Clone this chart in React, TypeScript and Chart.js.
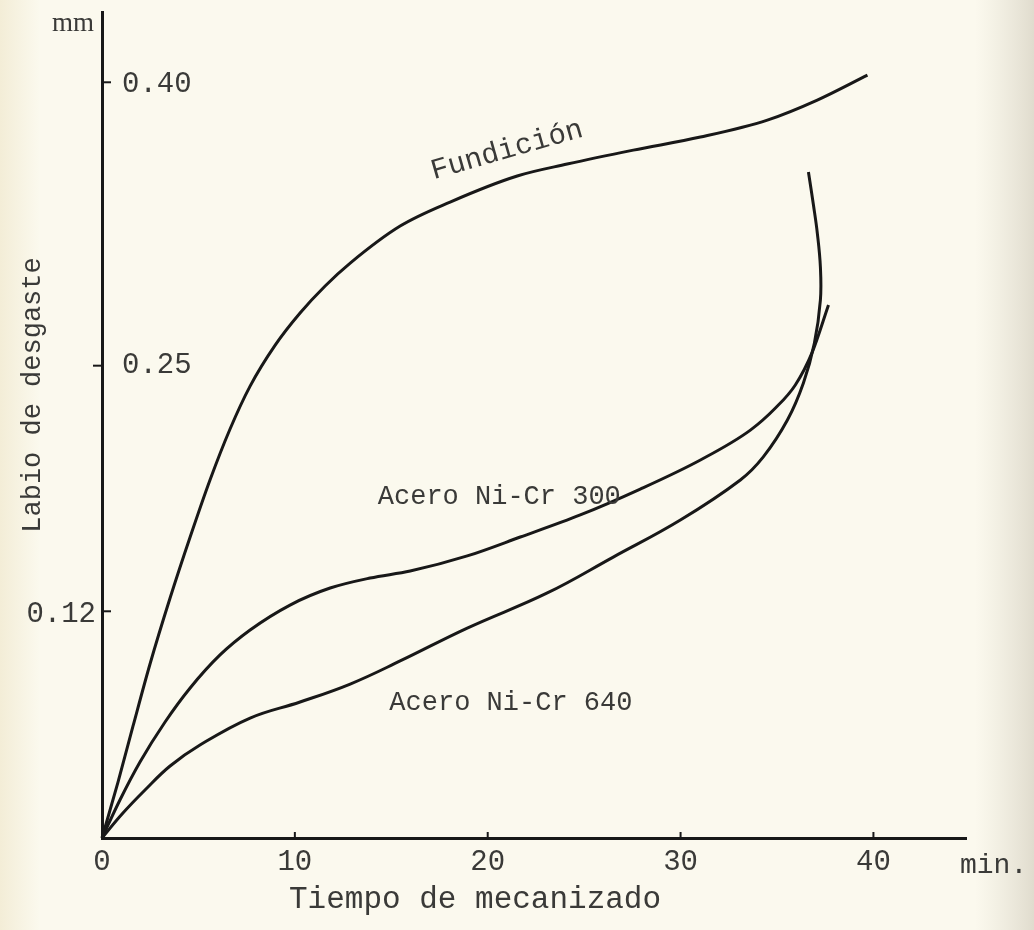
import React, { useEffect, useRef } from "react";
import { Chart, registerables } from "chart.js";

Chart.register(...registerables);

// ---- Data (minutes, mm) ----
const fundicionX = [0, 0.83, 1.61, 2.49, 3.53, 4.57, 5.6, 6.64, 7.68, 8.98, 10.27, 11.57, 12.87, 15.46, 18.05, 21.53, 24.12, 27.55, 31.03, 34.5, 37.09, 39.69];
const fundicionY = [0, 0.0296, 0.0593, 0.0921, 0.127, 0.1593, 0.1895, 0.2165, 0.2392, 0.2609, 0.2779, 0.2922, 0.3043, 0.3239, 0.3366, 0.3504, 0.3567, 0.3641, 0.371, 0.38, 0.3906, 0.4038];

const niCr300X = [0, 0.93, 1.97, 3.27, 4.57, 6.12, 7.68, 9.75, 11.83, 13.9, 15.98, 18.94, 21.69, 24.8, 27.91, 31.03, 33.62, 34.92, 35.95, 36.83, 37.67];
const niCr300Y = [0, 0.0201, 0.0402, 0.0614, 0.0794, 0.0969, 0.1101, 0.1233, 0.1323, 0.1376, 0.1413, 0.1493, 0.1593, 0.171, 0.1847, 0.2001, 0.2159, 0.2276, 0.2398, 0.2572, 0.2821];

const niCr640X = [0, 1.04, 2.23, 3.53, 5.08, 7.68, 10.27, 12.87, 15.46, 18.94, 23.09, 26.51, 29.99, 33.1, 34.29, 35.54, 36.37, 36.94, 37.25, 37.25, 37.09, 36.89, 36.63];
const niCr640Y = [0, 0.0127, 0.0254, 0.0381, 0.0492, 0.0635, 0.072, 0.0815, 0.0937, 0.1111, 0.1297, 0.1487, 0.1683, 0.1895, 0.2017, 0.2212, 0.2408, 0.262, 0.2847, 0.3022, 0.3202, 0.335, 0.3525];

const xTickValues = [0, 10, 20, 30, 40];
const xTickLabels = ["0", "10", "20", "30", "40"];
const yTickValues = [0.12, 0.25, 0.4];
const yTickLabels = ["0.12", "0.25", "0.40"];

const seriesLabels = ["Fundición", "Acero Ni-Cr 300", "Acero Ni-Cr 640"];
// anchor points of curve labels (data coords)
const labelAnchorX = [21.0, 14.3, 14.9];
const labelAnchorY = [0.364, 0.1805, 0.0715];

const xAxisTitle = "Tiempo de mecanizado";
const xAxisUnit = "min.";
const yAxisTitle = "Labio de desgaste";
const yAxisUnit = "mm";

const X_MAX = 44.8;
const Y_MAX = 0.4372;

const toPoints = (xs: number[], ys: number[]) => xs.map((x, i) => ({ x, y: ys[i] }));

const MONO = "'Liberation Mono', 'DejaVu Sans Mono', monospace";
const SERIF = "'Liberation Serif', 'DejaVu Serif', serif";
const INK = "#3a3a38";
const LINE = "#181818";

// styling for the individual y ticks (side of mark: +1 right, -1 left; label side)
const yTickMarkSide = [1, -1, 1];
const yTickLabelSide = ["left", "right", "right"];
const yTickLabelDy = [3, 0, 2];

const paperPlugin = {
  id: "paper",
  beforeDraw(chart: any) {
    const { ctx, width, height } = chart;
    ctx.save();
    ctx.fillStyle = "#fbf9ee";
    ctx.fillRect(0, 0, width, height);
    const gl = ctx.createLinearGradient(0, 0, 40, 0);
    gl.addColorStop(0, "rgba(240,232,205,0.7)");
    gl.addColorStop(1, "rgba(240,232,205,0)");
    ctx.fillStyle = gl;
    ctx.fillRect(0, 0, 40, height);
    const g = ctx.createLinearGradient(975, 0, width, 0);
    g.addColorStop(0, "rgba(225,220,205,0)");
    g.addColorStop(1, "rgba(215,210,195,0.75)");
    ctx.fillStyle = g;
    ctx.fillRect(975, 0, width - 975, height);
    ctx.restore();
  },
  afterDraw(chart: any) {
    const { ctx } = chart;
    const xs = chart.scales.x;
    const ys = chart.scales.y;
    const ax = xs.getPixelForValue(0);
    const ay = ys.getPixelForValue(0);
    ctx.save();
    // tick marks
    ctx.strokeStyle = LINE;
    ctx.lineWidth = 2;
    xTickValues.forEach((v) => {
      if (v === 0) return;
      const px = xs.getPixelForValue(v);
      ctx.beginPath();
      ctx.moveTo(px, ay);
      ctx.lineTo(px, ay - 6);
      ctx.stroke();
    });
    yTickValues.forEach((v, i) => {
      const py = ys.getPixelForValue(v);
      ctx.beginPath();
      ctx.moveTo(ax, py);
      ctx.lineTo(ax + yTickMarkSide[i] * 9, py);
      ctx.stroke();
    });

    ctx.fillStyle = INK;
    ctx.textBaseline = "middle";
    // x tick labels
    ctx.font = `29px ${MONO}`;
    ctx.textAlign = "center";
    xTickValues.forEach((v, i) => {
      ctx.fillText(xTickLabels[i], xs.getPixelForValue(v), ay + 24);
    });
    // y tick labels
    yTickValues.forEach((v, i) => {
      const py = ys.getPixelForValue(v) + yTickLabelDy[i];
      if (yTickLabelSide[i] === "left") {
        ctx.textAlign = "right";
        ctx.fillText(yTickLabels[i], ax - 6, py);
      } else {
        ctx.textAlign = "left";
        ctx.fillText(yTickLabels[i], ax + 20, py);
      }
    });
    // unit labels
    ctx.textAlign = "left";
    ctx.font = `28px ${MONO}`;
    ctx.fillText(xAxisUnit, xs.right - 6, ay + 28);
    ctx.font = `27px ${SERIF}`;
    ctx.textAlign = "right";
    ctx.fillText(yAxisUnit, ax - 8, 24);

    // axis titles
    ctx.font = `31px ${MONO}`;
    ctx.textAlign = "left";
    ctx.fillText(xAxisTitle, 289, ay + 62);
    ctx.save();
    ctx.translate(33, 395);
    ctx.rotate(-Math.PI / 2);
    ctx.textAlign = "center";
    ctx.font = `27px ${MONO}`;
    ctx.fillText(yAxisTitle, 0, 0);
    ctx.restore();

    // curve labels
    ctx.font = `29px ${MONO}`;
    ctx.save();
    ctx.translate(xs.getPixelForValue(labelAnchorX[0]), ys.getPixelForValue(labelAnchorY[0]));
    ctx.rotate((-16 * Math.PI) / 180);
    ctx.textAlign = "center";
    ctx.fillText(seriesLabels[0], 0, 0);
    ctx.restore();
    ctx.font = `27px ${MONO}`;
    ctx.textAlign = "left";
    ctx.fillText(seriesLabels[1], xs.getPixelForValue(labelAnchorX[1]), ys.getPixelForValue(labelAnchorY[1]));
    ctx.fillText(seriesLabels[2], xs.getPixelForValue(labelAnchorX[2]), ys.getPixelForValue(labelAnchorY[2]));
    ctx.restore();
  },
};

export default function App() {
  const ref = useRef<HTMLCanvasElement | null>(null);
  useEffect(() => {
    if (!ref.current) return;
    const mk = (label: string, xs: number[], ys: number[], monotone: boolean) => ({
      label,
      data: toPoints(xs, ys),
      showLine: true,
      borderColor: LINE,
      backgroundColor: LINE,
      borderWidth: 3,
      pointRadius: 0,
      tension: 0.4,
      cubicInterpolationMode: monotone ? "monotone" : "default",
      clip: 6,
    });
    const chart = new Chart(ref.current, {
      type: "scatter",
      data: {
        datasets: [
          mk(seriesLabels[0], fundicionX, fundicionY, true),
          mk(seriesLabels[1], niCr300X, niCr300Y, true),
          mk(seriesLabels[2], niCr640X, niCr640Y, false),
        ],
      },
      options: {
        responsive: false,
        animation: false,
        events: [],
        layout: { padding: { top: 12, right: 68, left: 0, bottom: 0 } },
        plugins: { legend: { display: false }, tooltip: { enabled: false } },
        scales: {
          x: {
            type: "linear",
            min: 0,
            max: X_MAX,
            grid: { display: false, drawTicks: false },
            ticks: { display: false },
            border: { display: true, color: LINE, width: 3 },
            afterFit: (s: any) => {
              s.height = 92;
            },
          },
          y: {
            type: "linear",
            min: 0,
            max: Y_MAX,
            grid: { display: false, drawTicks: false },
            ticks: { display: false },
            border: { display: true, color: LINE, width: 3 },
            afterFit: (s: any) => {
              s.width = 102;
            },
          },
        },
      },
      plugins: [paperPlugin],
    } as any);
    return () => chart.destroy();
  }, []);
  return (
    <canvas
      ref={ref}
      width={1034}
      height={930}
      style={{ position: "fixed", left: 0, top: 0, width: 1034, height: 930, display: "block" }}
    />
  );
}
